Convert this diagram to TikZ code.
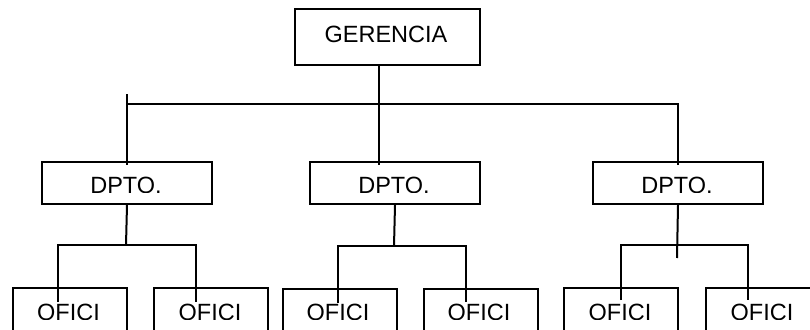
\documentclass[tikz,border=0pt]{standalone}
\usepackage{fontspec}
\setmainfont{Liberation Sans}
\begin{document}
\begin{tikzpicture}[x=1pt,y=-1pt,
  box/.style={draw, line width=2pt, inner sep=0pt, anchor=north west},
  dptobox/.style={box, minimum width=170pt, minimum height=42pt},
  oficbox/.style={box, minimum width=114pt, minimum height=60pt},
  lbl/.style={font=\fontsize{23.5}{27}\selectfont, inner sep=0pt, anchor=base},
  conn/.style={line width=2pt}]
\clip (0,0) rectangle (810,329);

% top level
\node[box, minimum width=185pt, minimum height=56pt] (g) at (294,8) {};
\node[lbl] (gt) at (386,42.5) {GERENCIA};

% departments
\node[dptobox] (d1) at (41,161) {};
\node[dptobox] (d2) at (309,161) {};
\node[dptobox] (d3) at (592,161) {};
\begin{scope}
  \clip (0,0) rectangle (810,192);
  \node[lbl] (d1t) at (126,193.5) {DPTO.};
  \node[lbl] (d2t) at (394,193.5) {DPTO.};
  \node[lbl] (d3t) at (677,193.5) {DPTO.};
\end{scope}

% offices
\node[oficbox] (o1) at (12,287) {};
\node[oficbox] (o2) at (153,287) {};
\node[oficbox] (o3) at (282,288) {};
\node[oficbox] (o4) at (423,288) {};
\node[oficbox] (o5) at (563,287) {};
\node[oficbox] (o6) at (705,287) {};
\begin{scope}
  \clip (0,0) rectangle (810,319);
  \node[lbl] (o1t) at (68.5,320) {OFICI};
  \node[lbl] (o2t) at (210,320) {OFICI};
  \node[lbl] (o3t) at (338,320) {OFICI};
  \node[lbl] (o4t) at (479,320) {OFICI};
  \node[lbl] (o5t) at (620,320) {OFICI};
  \node[lbl] (o6t) at (762,320) {OFICI};
\end{scope}

% connectors: management to departments
\coordinate (gx) at (379,64);
\coordinate (bus) at (0,104);
\coordinate (tick) at (0,94);
\draw[conn] (gx) -- ([yshift=-4pt]d2.north -| gx);
\draw[conn] (d1.north |- tick) -- ([yshift=-4pt]d1.north);
\draw[conn] (d1.north |- bus) -- (d3.north |- bus) -- ([yshift=-4pt]d3.north);

% connectors: departments to offices
\coordinate (b1) at (126,245);
\coordinate (b2) at (394,246);
\coordinate (b3) at (677,245);
\draw[conn] (d1.south) -- (b1);
\draw[conn] ([xshift=-12pt,yshift=-15pt]o1.north) |- (b1) -| ([xshift=-15pt,yshift=-15pt]o2.north);
\draw[conn] (d2.south) -- (b2);
\draw[conn] (o3.north -| 338,0) ++(0,15) |- (b2) -| ([xshift=-15pt,yshift=-14pt]o4.north);
\draw[conn] (d3.south) -- ([yshift=-13pt]b3);
\draw[conn] ([yshift=-13pt]o5.north) |- (b3) -| ([yshift=-13pt]o6.north -| 748,0);
\end{tikzpicture}
\end{document}
